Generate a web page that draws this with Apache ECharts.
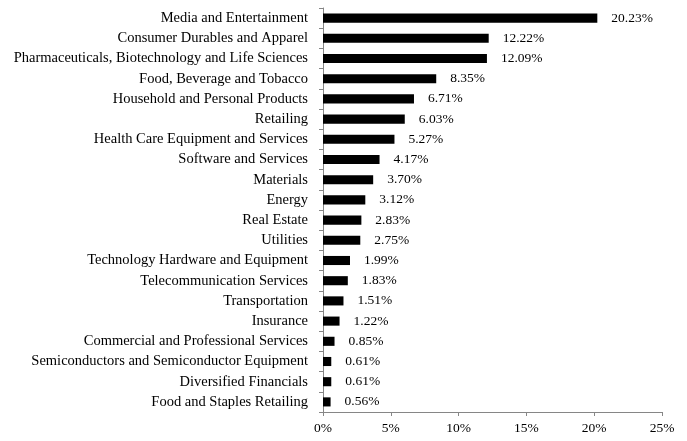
<!DOCTYPE html>
<html><head><meta charset="utf-8">
<script src="https://cdn.jsdelivr.net/npm/echarts@6/dist/echarts.min.js"></script>
<style>html,body{margin:0;padding:0;background:#fff}#c{width:687px;height:441px}</style>
</head><body><div id="c"></div>
<script>
const categories = [
"Media and Entertainment","Consumer Durables and Apparel","Pharmaceuticals, Biotechnology and Life Sciences",
"Food, Beverage and Tobacco","Household and Personal Products","Retailing","Health Care Equipment and Services",
"Software and Services","Materials","Energy","Real Estate","Utilities","Technology Hardware and Equipment",
"Telecommunication Services","Transportation","Insurance","Commercial and Professional Services",
"Semiconductors and Semiconductor Equipment","Diversified Financials","Food and Staples Retailing"];
const values = [20.23,12.22,12.09,8.35,6.71,6.03,5.27,4.17,3.70,3.12,2.83,2.75,1.99,1.83,1.51,1.22,0.85,0.61,0.61,0.56];
const xTicks = [0,5,10,15,20,25];
const font = "'Liberation Serif', 'DejaVu Serif', serif";
const chart = echarts.init(document.getElementById('c'));
chart.setOption({
  animation:false,
  grid:{left:323,right:25,top:8,bottom:29,containLabel:false},
  xAxis:{type:'value',min:0,max:25,interval:5,
    axisLine:{show:true,lineStyle:{color:'#868686'}},
    axisTick:{show:true,length:4,lineStyle:{color:'#868686'}},
    splitLine:{show:false},
    axisLabel:{formatter:v=>xTicks.includes(v)?v+'%':'',color:'#000',fontFamily:font,fontSize:13.5,margin:9}},
  yAxis:{type:'category',data:categories.slice().reverse(),
    axisLine:{lineStyle:{color:'#868686'}},
    axisTick:{show:true,length:4,lineStyle:{color:'#868686'}},
    axisLabel:{color:'#000',fontFamily:font,fontSize:14.5,margin:15}},
  series:[{type:'bar',data:values.slice().reverse(),barCategoryGap:'55%',
    itemStyle:{color:'#000'},
    label:{show:true,position:'right',distance:14,formatter:p=>p.value.toFixed(2)+'%',color:'#000',fontFamily:font,fontSize:13.5}}]
});
</script></body></html>
